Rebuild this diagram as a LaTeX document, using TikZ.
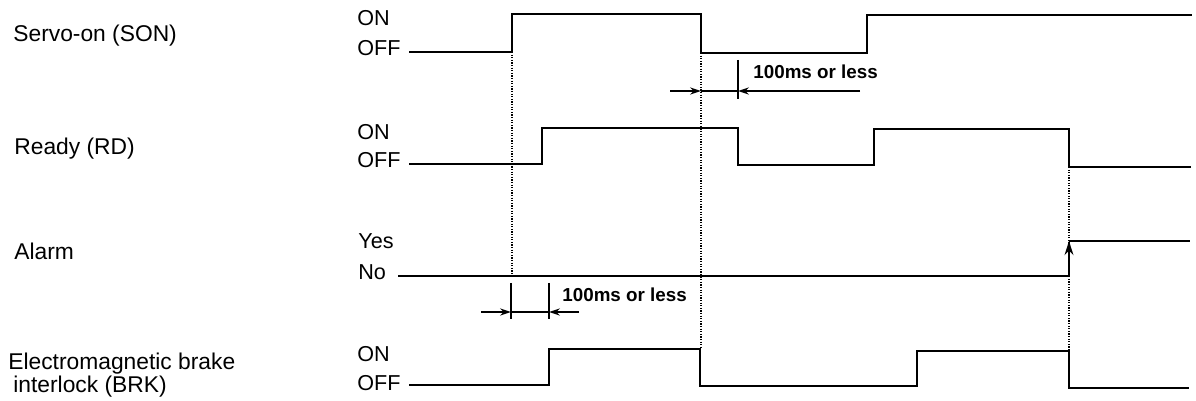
\documentclass[tikz,border=0pt]{standalone}
\usepackage{fontspec}
\setmainfont{Liberation Sans}
\usetikzlibrary{arrows.meta}
\tikzset{
  sigLine/.style={line width=1.2pt, line join=miter},
  dotLine/.style={line width=0.9pt, dash pattern=on 0.6pt off 0.7pt},
  dimArrow/.style={-{Stealth[length=5.5pt, width=3.6pt]}, line width=0.9pt},
  tickLine/.style={line width=0.9pt},
  sigName/.style={anchor=base west, inner sep=0pt, font=\fontsize{11.4}{13.5}\selectfont},
  lvlName/.style={anchor=base west, inner sep=0pt, font=\fontsize{10.8}{13}\selectfont},
  dimText/.style={anchor=base west, inner sep=0pt, font=\bfseries\fontsize{9.4}{11}\selectfont},
}
\begin{document}
\begin{tikzpicture}[x=0.5pt, y=-0.5pt]
  \useasboundingbox (0,0) rectangle (1196,401);
  % signal names
  \node[sigName] (son)  at (13,42)  {Servo-on (SON)};
  \node[sigName] (rd)   at (14,155) {Ready (RD)};
  \node[sigName] (alm)  at (14,260) {Alarm};
  \node[sigName] (brk)  at (8,370)  {Electromagnetic brake};
  \node[sigName] (brk2) at (13,393) {interlock (BRK)};
  % levels
  \node[lvlName] (on1)  at (357,26)  {ON};  \node[lvlName] (off1) at (357,56)  {OFF};
  \node[lvlName] (on2)  at (357,140) {ON};  \node[lvlName] (off2) at (357,168) {OFF};
  \node[lvlName] (yes)  at (358,249) {Yes}; \node[lvlName] (no)   at (358,279) {No};
  \node[lvlName] (on4)  at (357,361) {ON};  \node[lvlName] (off4) at (357,390) {OFF};
  % waveforms
  \draw[sigLine] (409,52) -- (512,52) -- (512,14) -- (701,14) -- (701,53)
    -- (867,53) -- (867,15) -- (1192,15);
  \draw[sigLine] (409,164) -- (542,164) -- (542,128) -- (738,128) -- (738,165)
    -- (874,165) -- (874,129) -- (1069,129) -- (1069,167) -- (1191,167);
  \draw[sigLine] (398,276) -- (1069,276);
  \draw[sigLine, -{Stealth[length=7pt, width=4.4pt]}] (1069,276) -- (1069,241);
  \draw[sigLine] (1069,241) -- (1190,241);
  \draw[sigLine] (409,385) -- (549,385) -- (549,349) -- (700,349) -- (700,386)
    -- (917,386) -- (917,351) -- (1069,351) -- (1069,388) -- (1189,388);
  % timing guides
  \draw[dotLine] (512,52) -- (512,276);
  \draw[dotLine] (701,53) -- (701,349);
  \draw[dotLine] (1069,167) -- (1069,351);
  % 100ms between SON off and RD off
  \coordinate (d1a) at (670,91); \coordinate (d1b) at (701,91);
  \coordinate (d1c) at (860,91); \coordinate (d1d) at (738,91);
  \draw[tickLine] (738,60) -- (738,99);
  \draw[dimArrow] (d1a) -- (d1b); \draw[dimArrow] (d1c) -- (d1d);
  \draw[tickLine] (d1b) -- (d1d);
  \node[dimText] (dt1) at (753,79) {100ms or less};
  % 100ms between RD on and BRK on
  \coordinate (d2a) at (481,312); \coordinate (d2b) at (511,312);
  \coordinate (d2c) at (579,312); \coordinate (d2d) at (549,312);
  \draw[tickLine] (511,283) -- (511,319); \draw[tickLine] (549,283) -- (549,319);
  \draw[dimArrow] (d2a) -- (d2b); \draw[dimArrow] (d2c) -- (d2d);
  \draw[tickLine] (d2b) -- (d2d);
  \node[dimText] (dt2) at (562,301) {100ms or less};
\end{tikzpicture}
\end{document}
